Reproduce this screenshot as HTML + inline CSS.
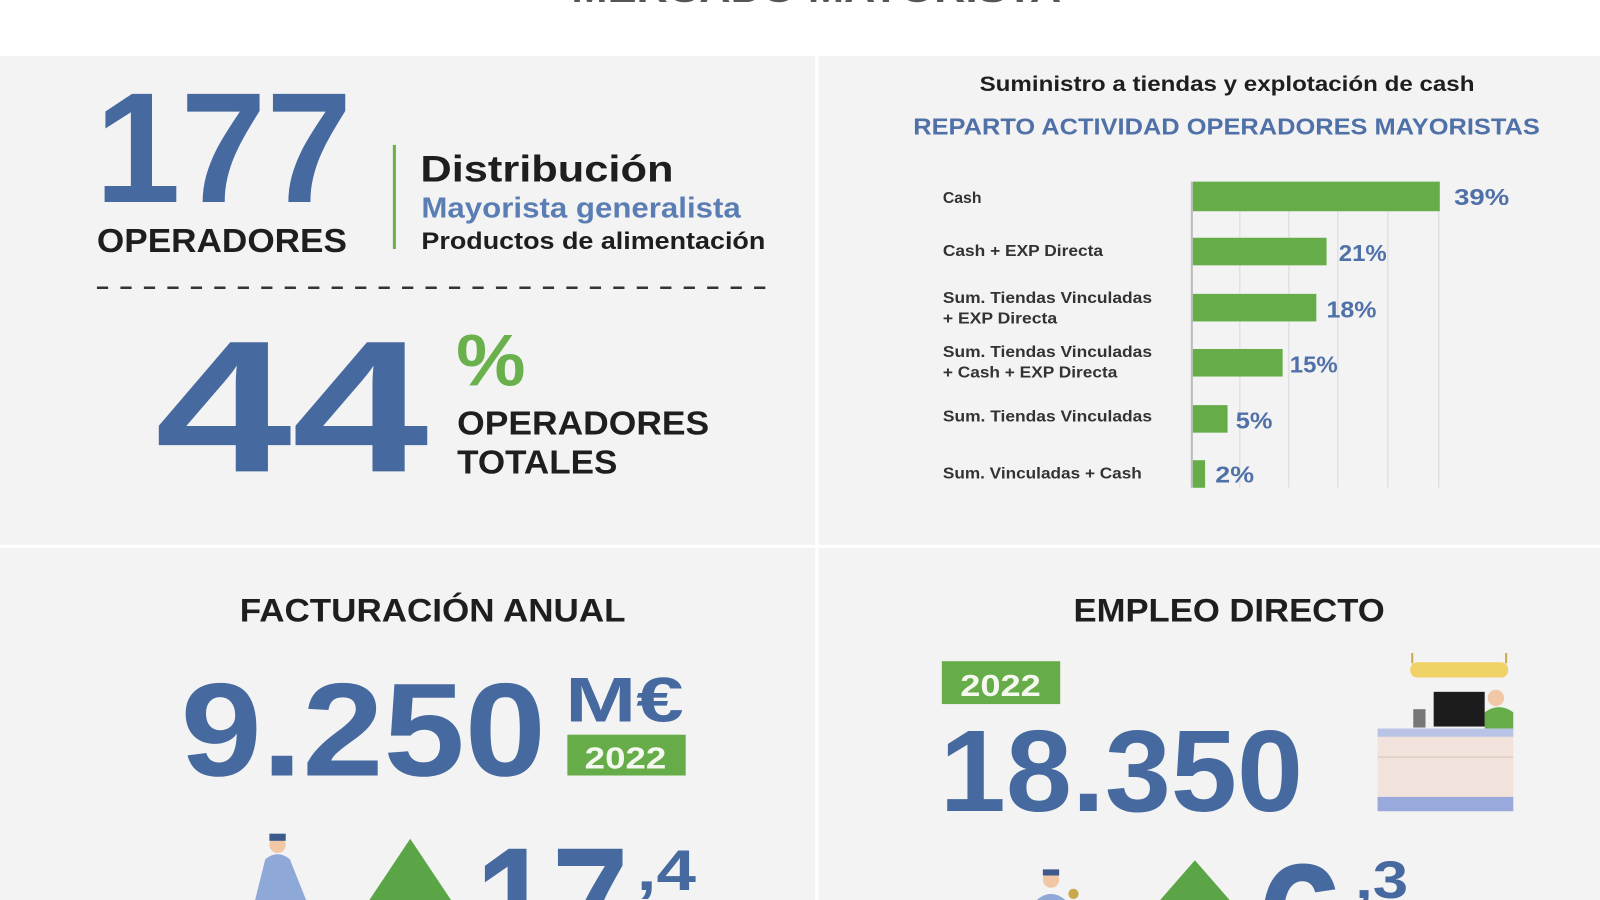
<!DOCTYPE html>
<html><head><meta charset="utf-8"><style>
html,body{margin:0;padding:0;background:#fff;width:1600px;height:900px;overflow:hidden;}
svg{display:block;}
text{font-family:"Liberation Sans",sans-serif;font-weight:bold;}
</style></head><body>
<svg width="1600" height="900" viewBox="0 0 1568 882" preserveAspectRatio="none" xmlns="http://www.w3.org/2000/svg">
<rect x="0" y="0" width="1568" height="882" fill="#ffffff"/>
<text x="560" y="2" font-size="34" fill="#555" textLength="480" lengthAdjust="spacingAndGlyphs">MERCADO MAYORISTA</text>
<rect x="0" y="55" width="1568" height="827" fill="#f3f3f3"/>
<rect x="799" y="55" width="3" height="827" fill="#ffffff"/>
<rect x="0" y="534" width="1568" height="3" fill="#ffffff"/>

<text x="93" y="198" font-size="154" fill="#46699f" textLength="252" lengthAdjust="spacingAndGlyphs">177</text>
<text x="95" y="247" font-size="33" fill="#1e1e1e" textLength="245" lengthAdjust="spacingAndGlyphs">OPERADORES</text>
<rect x="385" y="142" width="3" height="102" fill="#6ab04c"/>
<text x="412" y="178" font-size="36" fill="#1e1e1e" textLength="248" lengthAdjust="spacingAndGlyphs">Distribución</text>
<text x="413" y="213" font-size="28" fill="#5a7db4" textLength="313" lengthAdjust="spacingAndGlyphs">Mayorista generalista</text>
<text x="413" y="244" font-size="24" fill="#1e1e1e" textLength="337" lengthAdjust="spacingAndGlyphs">Productos de alimentación</text>
<line x1="95" y1="282" x2="750" y2="282" stroke="#333" stroke-width="2.5" stroke-dasharray="11,12"/>
<text x="152" y="462" font-size="184" fill="#46699f" textLength="268" lengthAdjust="spacingAndGlyphs">44</text>
<text x="447" y="378" font-size="72" fill="#6ab04c" textLength="68" lengthAdjust="spacingAndGlyphs">%</text>
<text x="448" y="426" font-size="33" fill="#1e1e1e" textLength="247" lengthAdjust="spacingAndGlyphs">OPERADORES</text>
<text x="448" y="464" font-size="33" fill="#1e1e1e" textLength="157" lengthAdjust="spacingAndGlyphs">TOTALES</text>

<text x="960" y="89" font-size="21" fill="#1e1e1e" textLength="485" lengthAdjust="spacingAndGlyphs">Suministro a tiendas y explotación de cash</text>
<text x="895" y="132" font-size="23" fill="#4f71a8" textLength="614" lengthAdjust="spacingAndGlyphs">REPARTO ACTIVIDAD OPERADORES MAYORISTAS</text>
<g stroke="#e2e2e2" stroke-width="1.5">
<line x1="1215" y1="178" x2="1215" y2="478"/><line x1="1263" y1="178" x2="1263" y2="478"/>
<line x1="1311" y1="178" x2="1311" y2="478"/><line x1="1360" y1="178" x2="1360" y2="478"/>
<line x1="1410" y1="178" x2="1410" y2="478"/>
</g>
<line x1="1168" y1="178" x2="1168" y2="478" stroke="#bbb" stroke-width="2"/>
<g fill="#66ad4a">
<rect x="1169" y="178" width="242" height="29"/>
<rect x="1169" y="233" width="131" height="27"/>
<rect x="1169" y="288" width="121" height="27"/>
<rect x="1169" y="342" width="88" height="27"/>
<rect x="1169" y="397" width="34" height="27"/>
<rect x="1169" y="451" width="12" height="27"/>
</g>
<g font-size="15.5" fill="#333">
<text x="924" y="199">Cash</text>
<text x="924" y="251" textLength="157" lengthAdjust="spacingAndGlyphs">Cash + EXP Directa</text>
<text x="924" y="297" textLength="205" lengthAdjust="spacingAndGlyphs">Sum. Tiendas Vinculadas</text>
<text x="924" y="317" textLength="112" lengthAdjust="spacingAndGlyphs">+ EXP Directa</text>
<text x="924" y="350" textLength="205" lengthAdjust="spacingAndGlyphs">Sum. Tiendas Vinculadas</text>
<text x="924" y="370" textLength="171" lengthAdjust="spacingAndGlyphs">+ Cash + EXP Directa</text>
<text x="924" y="413" textLength="205" lengthAdjust="spacingAndGlyphs">Sum. Tiendas Vinculadas</text>
<text x="924" y="469" textLength="195" lengthAdjust="spacingAndGlyphs">Sum. Vinculadas + Cash</text>
</g>
<g font-size="23" fill="#4f71a8">
<text x="1425" y="201" textLength="54" lengthAdjust="spacingAndGlyphs">39%</text>
<text x="1312" y="256" textLength="47" lengthAdjust="spacingAndGlyphs">21%</text>
<text x="1300" y="311" textLength="49" lengthAdjust="spacingAndGlyphs">18%</text>
<text x="1264" y="365" textLength="47" lengthAdjust="spacingAndGlyphs">15%</text>
<text x="1211" y="420" textLength="36" lengthAdjust="spacingAndGlyphs">5%</text>
<text x="1191" y="473" textLength="38" lengthAdjust="spacingAndGlyphs">2%</text>
</g>

<text x="235" y="609" font-size="32" fill="#1e1e1e" textLength="378" lengthAdjust="spacingAndGlyphs">FACTURACIÓN ANUAL</text>
<text x="177" y="760" font-size="130" fill="#46699f" textLength="358" lengthAdjust="spacingAndGlyphs">9.250</text>
<text x="554" y="707" font-size="62" fill="#46699f" textLength="116" lengthAdjust="spacingAndGlyphs">M€</text>
<rect x="556" y="720" width="116" height="40" fill="#66ad4a"/>
<text x="573" y="753" font-size="30" fill="#f4f8ee" textLength="80" lengthAdjust="spacingAndGlyphs">2022</text>
<circle cx="272" cy="828" r="8" fill="#f2c7a5"/>
<rect x="264" y="817" width="16" height="7" fill="#3d5a8c"/>
<path d="M260 842 Q272 832 284 842 L300 882 L250 882 Z" fill="#8ea8d8"/>
<polygon points="402,822 442,882 362,882" fill="#5ba547"/>
<text x="466" y="935" font-size="150" fill="#46699f" textLength="150" lengthAdjust="spacingAndGlyphs">17</text>
<text x="624" y="872" font-size="56" fill="#46699f" textLength="58" lengthAdjust="spacingAndGlyphs">,4</text>

<text x="1052" y="609" font-size="32" fill="#1e1e1e" textLength="305" lengthAdjust="spacingAndGlyphs">EMPLEO DIRECTO</text>
<rect x="923" y="648" width="116" height="42" fill="#66ad4a"/>
<text x="941" y="682" font-size="30" fill="#f4f8ee" textLength="79" lengthAdjust="spacingAndGlyphs">2022</text>
<text x="921" y="795" font-size="114" fill="#46699f" textLength="356" lengthAdjust="spacingAndGlyphs">18.350</text>
<line x1="1384" y1="640" x2="1384" y2="650" stroke="#c9a94c" stroke-width="2"/>
<line x1="1476" y1="640" x2="1476" y2="650" stroke="#c9a94c" stroke-width="2"/>
<rect x="1382" y="649" width="96" height="15" rx="7" fill="#f1d266"/>
<circle cx="1466" cy="684" r="8" fill="#f2c7a5"/>
<path d="M1455 698 Q1469 688 1483 698 L1483 716 L1455 716 Z" fill="#66ad4a"/>
<rect x="1405" y="678" width="50" height="34" fill="#1c1c1c"/>
<rect x="1385" y="695" width="12" height="18" fill="#777"/>
<rect x="1350" y="714" width="133" height="68" fill="#f1e2dc"/>
<rect x="1350" y="714" width="133" height="8" fill="#b9c3e6"/>
<line x1="1350" y1="742" x2="1483" y2="742" stroke="#e0ccc4" stroke-width="1.5"/>
<rect x="1350" y="781" width="133" height="14" fill="#9aa9dc"/>
<circle cx="1030" cy="862" r="8" fill="#f2c7a5"/>
<rect x="1022" y="852" width="16" height="6" fill="#3d5a8c"/>
<path d="M1016 882 Q1030 870 1044 882 Z" fill="#8ea8d8"/>
<circle cx="1052" cy="876" r="5" fill="#c9a94c"/>
<polygon points="1171,843 1205,882 1137,882" fill="#5ba547"/>
<text x="1232" y="958" font-size="160" fill="#46699f" textLength="85" lengthAdjust="spacingAndGlyphs">6</text>
<text x="1328" y="880" font-size="52" fill="#46699f" textLength="52" lengthAdjust="spacingAndGlyphs">,3</text>
</svg>
</body></html>
